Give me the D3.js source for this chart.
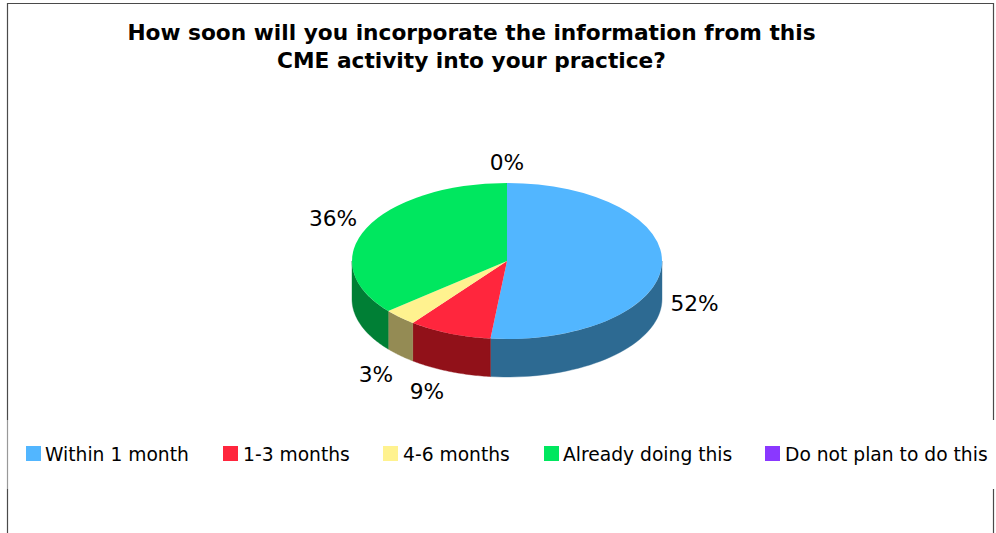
<!DOCTYPE html>
<html><head><meta charset="utf-8">
<script src="https://cdn.jsdelivr.net/npm/d3@7"></script>
<style>html,body{margin:0;padding:0;background:#fff}svg{display:block}text{font-family:"DejaVu Sans",sans-serif;fill:#000}</style>
</head><body><svg id="c" width="996" height="533"></svg>
<script>
const categories=["Within 1 month","1-3 months","4-6 months","Already doing this","Do not plan to do this"];
const values=[51.7,8.7,3.5,36.1,0];
const pctLabels=["52%","9%","3%","36%","0%"];
const topColors=["#52b6ff","#ff263d","#fff28f","#00e75f","#8a38ff"];
const sideColors=["#2d6a92","#911119","#948b54","#007f35","#4f2090"];
const titleLines=["How soon will you incorporate the information from this","CME activity into your practice?"];

const svg=d3.select("#c");
// frame
svg.append("path").attr("d","M7.5 533V3.5H993.5V533").attr("fill","none").attr("stroke","#4a4a4a").attr("stroke-width",1.2);
svg.append("rect").attr("x",6).attr("y",420).attr("width",990).attr("height",69).attr("fill","#fff");
svg.append("line").attr("x1",7.5).attr("x2",7.5).attr("y1",420).attr("y2",489).attr("stroke","#999").attr("stroke-width",1.2);
// title
svg.append("g").selectAll("text").data(titleLines).join("text")
  .attr("x",471.5).attr("y",(d,i)=>40+i*28).attr("text-anchor","middle")
  .attr("font-size",21.7).attr("font-weight","bold").text(d=>d);
// pie
const cx=507,cy=261,rx=155,ry=78,depth=38;
const pie=d3.pie().sort(null).value(d=>d)(values);
const xS=a=>cx+rx*Math.sin(a), yS=a=>cy-ry*Math.cos(a);
const line=d3.line();
const wall=(a0,a1,color)=>{
  const s=Math.max(a0,Math.PI/2), e=Math.min(a1,3*Math.PI/2);
  if(e<=s) return;
  const ts=d3.range(0,41).map(i=>s+(e-s)*i/40);
  const pts=ts.map(t=>[xS(t),yS(t)]).concat(ts.slice().reverse().map(t=>[xS(t),yS(t)+depth]));
  svg.append("path").attr("d",line(pts)+"Z").attr("fill",color).attr("stroke",color).attr("stroke-width",.4);
};
pie.forEach((p,i)=>wall(p.startAngle,p.endAngle,sideColors[i]));
const arc=d3.arc().innerRadius(0).outerRadius(rx);
svg.append("g").attr("transform",`translate(${cx},${cy}) scale(1,${ry/rx})`)
  .selectAll("path").data(pie).join("path").attr("d",arc).attr("fill",(d,i)=>topColors[i]);
// percent labels
const labelPos=[[694.5,303],[427,391],[376,374],[333,218],[507,162]];
svg.append("g").selectAll("text").data(pctLabels).join("text")
  .attr("x",(d,i)=>labelPos[i][0]).attr("y",(d,i)=>labelPos[i][1]).attr("dy","0.36em")
  .attr("text-anchor","middle").attr("font-size",21.7).text(d=>d);
// legend
const legX=[26,223,383,544,765], legTX=[45,243,403,563,785];
const lg=svg.append("g");
lg.selectAll("rect").data(categories).join("rect")
  .attr("x",(d,i)=>legX[i]).attr("y",446).attr("width",15).attr("height",15).attr("fill",(d,i)=>topColors[i]);
lg.selectAll("text").data(categories).join("text")
  .attr("x",(d,i)=>legTX[i]).attr("y",461).attr("font-size",18.7).text(d=>d);
</script></body></html>
